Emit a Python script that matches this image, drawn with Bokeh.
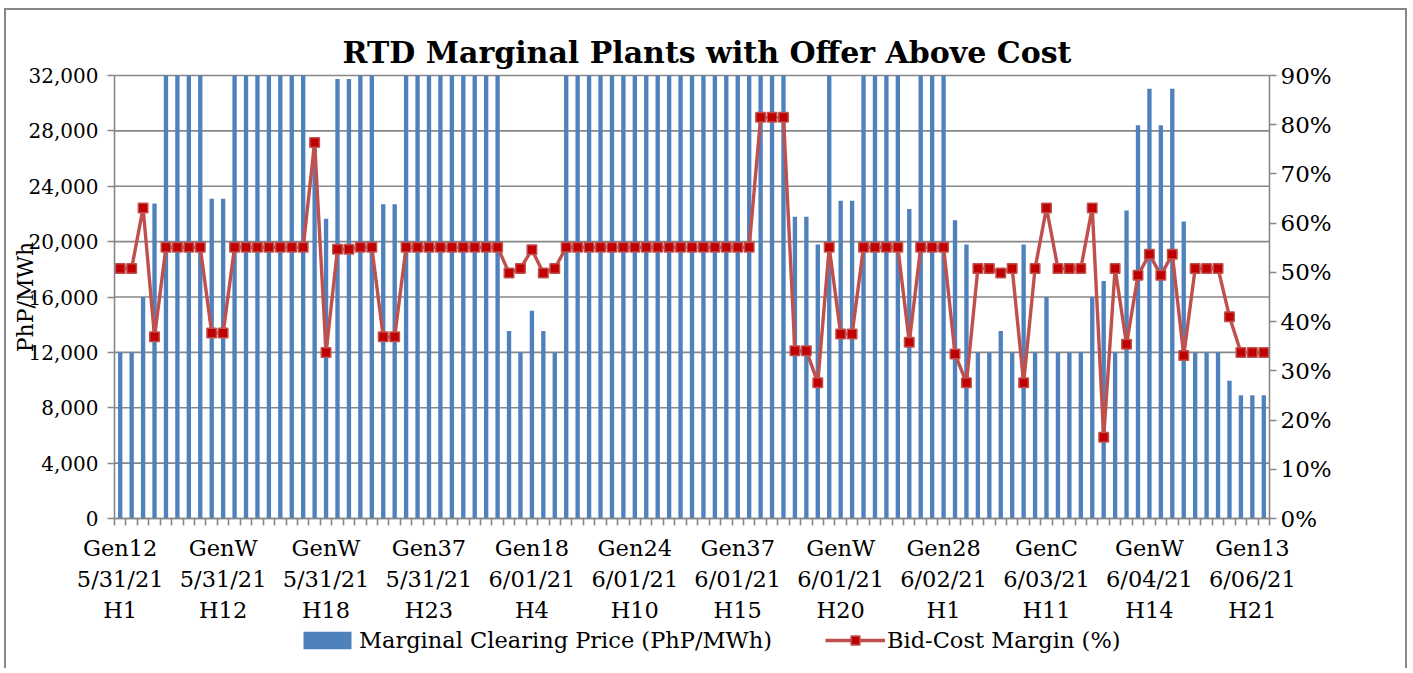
import math
from bokeh.plotting import figure
from bokeh.models import (Range1d, LinearAxis, FixedTicker, NumeralTickFormatter,
                          Legend, LegendItem, Label, ColumnDataSource)
from bokeh.embed import file_html
from bokeh.resources import INLINE

# ---------------- data ----------------
title_text = "RTD Marginal Plants with Offer Above Cost"
y_left_label = "PhP/MWh"
series_price_name = "Marginal Clearing Price (PhP/MWh)"
series_margin_name = "Bid-Cost Margin (%)"

price = [
    12000, 12000, 16000, 22750, 32000, 32000, 32000, 32000, 23100, 23100,
    32000, 32000, 32000, 32000, 32000, 32000, 32000, 27000, 21650, 31750,
    31750, 32000, 32000, 22700, 22700, 32000, 32000, 32000, 32000, 32000,
    32000, 32000, 32000, 32000, 13550, 12000, 15000, 13550, 12000, 32000,
    32000, 32000, 32000, 32000, 32000, 32000, 32000, 32000, 32000, 32000,
    32000, 32000, 32000, 32000, 32000, 32000, 32000, 32000, 32000, 21800,
    21800, 19800, 32000, 22950, 22950, 32000, 32000, 32000, 32000, 22350,
    32000, 32000, 32000, 21550, 19800, 12000, 12000, 13550, 12000, 19800,
    12000, 16000, 12000, 12000, 12000, 16000, 17150, 12000, 22250, 28400,
    31050, 28400, 31050, 21450, 12000, 12000, 12000, 9950, 8900, 8900,
    8900,
]

margin = [
    50.8, 50.8, 63.1, 36.9, 55.1, 55.1, 55.1, 55.1, 37.7, 37.7,
    55.1, 55.1, 55.1, 55.1, 55.1, 55.1, 55.1, 76.4, 33.7, 54.7,
    54.7, 55.1, 55.1, 36.9, 36.9, 55.1, 55.1, 55.1, 55.1, 55.1,
    55.1, 55.1, 55.1, 55.1, 49.9, 50.8, 54.6, 49.9, 50.8, 55.1,
    55.1, 55.1, 55.1, 55.1, 55.1, 55.1, 55.1, 55.1, 55.1, 55.1,
    55.1, 55.1, 55.1, 55.1, 55.1, 55.1, 81.5, 81.5, 81.5, 34.1,
    34.1, 27.6, 55.1, 37.5, 37.5, 55.1, 55.1, 55.1, 55.1, 35.8,
    55.1, 55.1, 55.1, 33.4, 27.6, 50.8, 50.8, 49.9, 50.8, 27.6,
    50.8, 63.1, 50.8, 50.8, 50.8, 63.1, 16.5, 50.8, 35.4, 49.4,
    53.7, 49.4, 53.7, 33.1, 50.8, 50.8, 50.8, 41.0, 33.7, 33.7,
    33.7,
]

label_gen = ["Gen12", "GenW", "GenW", "Gen37", "Gen18", "Gen24",
             "Gen37", "GenW", "Gen28", "GenC", "GenW", "Gen13"]
label_date = ["5/31/21", "5/31/21", "5/31/21", "5/31/21", "6/01/21", "6/01/21",
              "6/01/21", "6/01/21", "6/02/21", "6/03/21", "6/04/21", "6/06/21"]
label_hour = ["H1", "H12", "H18", "H23", "H4", "H10",
              "H15", "H20", "H1", "H11", "H14", "H21"]
label_step = 9

left_ticks = [0, 4000, 8000, 12000, 16000, 20000, 24000, 28000, 32000]
right_ticks = [0, 10, 20, 30, 40, 50, 60, 70, 80, 90]

# ---------------- layout geometry ----------------
FONT = "DejaVu Serif"
GRID = "#878787"
PLOT_W, PLOT_H = 1155, 443      # value area in pixels
LEFT_PX, RIGHT_PX = 108, 136    # room left / right of the value area
ABOVE_PX = 65                   # room above the value area (title)
BELOW_PX = 150                  # room under the value area for labels + legend

n = len(price)
src = ColumnDataSource(dict(x=list(range(n)), price=price, margin=margin))

x0, x1 = -0.5, n - 0.5
px_cat = PLOT_W / (x1 - x0)
l0, l1 = left_ticks[0], left_ticks[-1]
r0, r1 = right_ticks[0], right_ticks[-1]
val_per_px = (l1 - l0) / PLOT_H
pct_per_px = (r1 - r0) / PLOT_H

p = figure(frame_width=LEFT_PX + PLOT_W + RIGHT_PX,
           frame_height=ABOVE_PX + PLOT_H + BELOW_PX,
           output_backend="svg", toolbar_location=None,
           x_range=Range1d(x0 - LEFT_PX / px_cat, x1 + RIGHT_PX / px_cat),
           y_range=Range1d(l0 - BELOW_PX * val_per_px, l1 + ABOVE_PX * val_per_px),
           min_border_left=0, min_border_right=0, min_border_top=0,
           min_border_bottom=0,
           styles={"margin": "8px 0 0 4px",
                   "border-top": "2px solid #878787",
                   "border-left": "2px solid #878787",
                   "border-right": "2px solid #878787"})
p.extra_y_ranges = {"pct": Range1d(r0 - BELOW_PX * pct_per_px, r1 + ABOVE_PX * pct_per_px)}
p.outline_line_color = None
p.background_fill_color = "white"
p.border_fill_color = "white"
p.title.visible = False
p.xgrid.visible = False
p.ygrid.visible = False

# horizontal gridlines across the category span only (under the bars)
p.segment(x0=[x0] * len(left_ticks), x1=[x1] * len(left_ticks),
          y0=left_ticks, y1=left_ticks, line_color=GRID, line_width=1.6)

bars = p.vbar(x="x", top="price", width=0.38, source=src,
              fill_color="#4F81BD", line_color=None)
line = p.line(x="x", y="margin", source=src, y_range_name="pct",
              line_color="#C0504D", line_width=3.4)
marks = p.scatter(x="x", y="margin", source=src, y_range_name="pct",
                  marker="square", size=9.5, fill_color="#C00000",
                  line_color="#C0504D", line_width=1.5)

# left axis, pinned at the left edge of the category span
ya = p.yaxis[0]
ya.fixed_location = x0
ya.ticker = FixedTicker(ticks=left_ticks)
ya.bounds = (l0, l1)
ya.formatter = NumeralTickFormatter(format="0,0")
ya.axis_line_color = GRID
ya.axis_line_width = 1.6
ya.major_tick_line_color = GRID
ya.major_tick_line_width = 1.6
ya.major_tick_out = 7
ya.major_tick_in = 0
ya.minor_tick_line_color = None
ya.major_label_text_font = FONT
ya.major_label_text_font_size = "20px"
ya.major_label_text_color = "black"
ya.major_label_standoff = 9

# right axis, pinned at the right edge of the category span
ra = LinearAxis(y_range_name="pct", ticker=FixedTicker(ticks=right_ticks),
                bounds=(r0, r1), fixed_location=x1,
                major_label_overrides={t: f"{t}%" for t in right_ticks})
ra.axis_line_color = GRID
ra.axis_line_width = 1.6
ra.major_tick_line_color = GRID
ra.major_tick_line_width = 1.6
ra.major_tick_out = 7
ra.major_tick_in = 0
ra.minor_tick_line_color = None
ra.major_label_text_font = FONT
ra.major_label_text_font_size = "23px"
ra.major_label_text_color = "black"
ra.major_label_standoff = 4
p.add_layout(ra, "right")

# bottom (category) axis, pinned at value 0
label_pos = [i * label_step for i in range(len(label_gen))]
xa = p.xaxis[0]
xa.fixed_location = l0
xa.bounds = (x0, x1)
xa.ticker = FixedTicker(ticks=label_pos, minor_ticks=[i - 0.5 for i in range(n + 1)])
xa.major_label_overrides = {pos: f"{g}\n{d}\n{h}" for pos, g, d, h in
                            zip(label_pos, label_gen, label_date, label_hour)}
xa.axis_line_color = GRID
xa.axis_line_width = 1.6
xa.major_tick_out = 0
xa.major_tick_in = 0
xa.minor_tick_line_color = GRID
xa.minor_tick_line_width = 1.6
xa.minor_tick_out = 7
xa.minor_tick_in = 0
xa.major_label_text_font = FONT
xa.major_label_text_font_size = "22.5px"
xa.major_label_text_color = "black"
xa.major_label_standoff = 9

# chart title
p.add_layout(Label(x=x0 + (706.5 - 114) / px_cat, y=l1 + 23 * val_per_px,
                   text=title_text, text_font=FONT, text_font_style="bold",
                   text_font_size="30px", text_align="center",
                   text_baseline="alphabetic", text_color="black"))

# left value-axis title
p.add_layout(Label(x=x0 - 89 / px_cat, y=(l0 + l1) / 2, text=y_left_label,
                   angle=math.pi / 2, text_font=FONT, text_font_size="22px",
                   text_align="center", text_baseline="middle", text_color="black"))

# legend (inside the lower strip of the frame)
legend = Legend(items=[LegendItem(label=series_price_name, renderers=[bars]),
                       LegendItem(label=series_margin_name, renderers=[line, marks])],
                orientation="horizontal", location=(183 + LEFT_PX, 15),
                border_line_color=None, background_fill_alpha=0,
                padding=0, margin=0, spacing=53,
                label_text_font=FONT, label_text_font_size="22.5px",
                label_text_color="black", glyph_width=60, glyph_height=22,
                label_standoff=2)
p.add_layout(legend, "center")

open("out.html", "w").write(file_html(p, INLINE))
